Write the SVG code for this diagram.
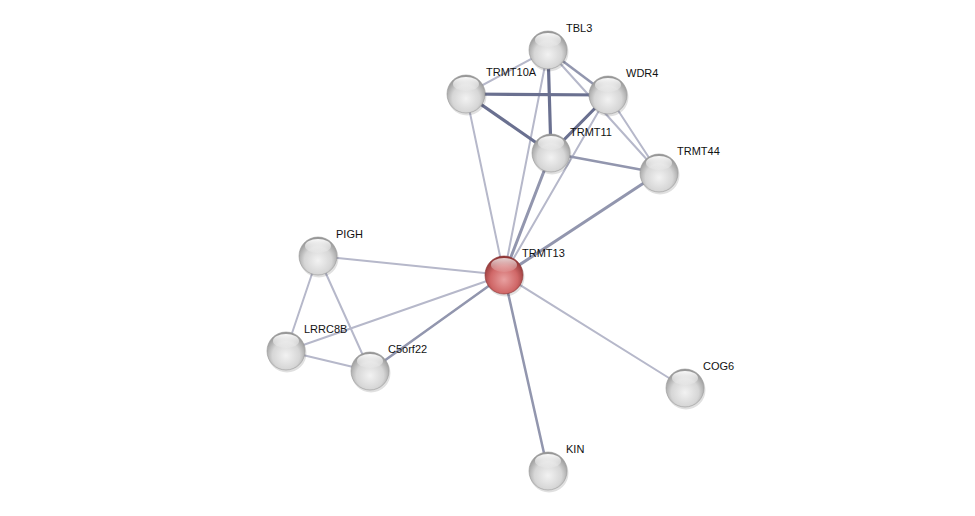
<svg xmlns="http://www.w3.org/2000/svg" width="975" height="516" viewBox="0 0 975 516">
<defs>
<radialGradient id="gw" cx="0.5" cy="0.62" r="0.6">
<stop offset="0" stop-color="#f2f2f2"/>
<stop offset="0.6" stop-color="#d6d6d6"/>
<stop offset="1" stop-color="#949494"/>
</radialGradient>
<radialGradient id="gr" cx="0.5" cy="0.62" r="0.6">
<stop offset="0" stop-color="#e8a0a0"/>
<stop offset="0.6" stop-color="#d06868"/>
<stop offset="1" stop-color="#8e3434"/>
</radialGradient>
<linearGradient id="hl" x1="0" y1="0" x2="0" y2="1">
<stop offset="0" stop-color="#ffffff" stop-opacity="0.95"/>
<stop offset="1" stop-color="#ffffff" stop-opacity="0.1"/>
</linearGradient>
<g id="ball">
<circle r="19.5" fill="#000" opacity="0.12" cx="1" cy="2"/>
<circle r="19" fill="url(#gw)" stroke="#999" stroke-width="0.6"/>
<ellipse cx="0" cy="-10" rx="13" ry="7" fill="url(#hl)"/>
</g>
<g id="ballr">
<circle r="19.5" fill="#000" opacity="0.12" cx="1" cy="2"/>
<circle r="19" fill="url(#gr)" stroke="#8a3030" stroke-width="0.6"/>
<ellipse cx="0" cy="-10" rx="13" ry="7" fill="url(#hl)" opacity="0.8"/>
</g>
</defs>
<style>
.t{stroke:#b6b8ca;stroke-width:2}
.m{stroke:#9296ae;stroke-width:2.5}
.k{stroke:#6a7090;stroke-width:3.2}
text{font-family:"Liberation Sans",Arial,sans-serif;font-size:11px;fill:#111}
</style>
<rect width="975" height="516" fill="#fff"/>
<g id="edges" stroke-linecap="round">
<line class="t" x1="548" y1="50" x2="466" y2="94"/>
<line class="m" x1="548" y1="50" x2="608" y2="95"/>
<line class="t" x1="548" y1="50" x2="659" y2="173"/>
<line class="k" x1="548" y1="50" x2="551" y2="153"/>
<line class="t" x1="548" y1="50" x2="504" y2="275"/>
<line class="k" x1="466" y1="94" x2="608" y2="95"/>
<line class="k" x1="466" y1="94" x2="551" y2="153"/>
<line class="t" x1="466" y1="94" x2="504" y2="275"/>
<line class="k" x1="608" y1="95" x2="551" y2="153"/>
<line class="t" x1="608" y1="95" x2="659" y2="173"/>
<line class="t" x1="608" y1="95" x2="504" y2="275"/>
<line class="m" x1="551" y1="153" x2="659" y2="173"/>
<line class="m" x1="551" y1="153" x2="504" y2="275" style="stroke-width:3"/>
<line class="m" x1="659" y1="173" x2="504" y2="275" style="stroke-width:3"/>
<line class="t" x1="318" y1="256" x2="504" y2="275"/>
<line class="t" x1="318" y1="256" x2="286" y2="351"/>
<line class="t" x1="318" y1="256" x2="370" y2="371"/>
<line class="t" x1="286" y1="351" x2="370" y2="371"/>
<line class="t" x1="286" y1="351" x2="504" y2="275"/>
<line class="m" x1="370" y1="371" x2="504" y2="275"/>
<line class="t" x1="504" y1="275" x2="685" y2="388"/>
<line class="m" x1="504" y1="275" x2="548" y2="471"/>
</g>
<g id="TBL3"><use href="#ball" x="548" y="50"/><text x="566" y="32">TBL3</text></g>
<g id="TRMT10A"><use href="#ball" x="466" y="94"/><text x="486" y="76">TRMT10A</text></g>
<g id="WDR4"><use href="#ball" x="608" y="95"/><text x="626" y="77">WDR4</text></g>
<g id="TRMT11"><use href="#ball" x="551" y="153"/><text x="570" y="136">TRMT11</text></g>
<g id="TRMT44"><use href="#ball" x="659" y="173"/><text x="677" y="155">TRMT44</text></g>
<g id="TRMT13"><use href="#ballr" x="504" y="275"/><text x="522" y="257">TRMT13</text></g>
<g id="PIGH"><use href="#ball" x="318" y="256"/><text x="336" y="238">PIGH</text></g>
<g id="LRRC8B"><use href="#ball" x="286" y="351"/><text x="304" y="333">LRRC8B</text></g>
<g id="C5orf22"><use href="#ball" x="370" y="371"/><text x="388" y="353">C5orf22</text></g>
<g id="COG6"><use href="#ball" x="685" y="388"/><text x="703" y="370">COG6</text></g>
<g id="KIN"><use href="#ball" x="548" y="471"/><text x="566" y="453">KIN</text></g>
</svg>
